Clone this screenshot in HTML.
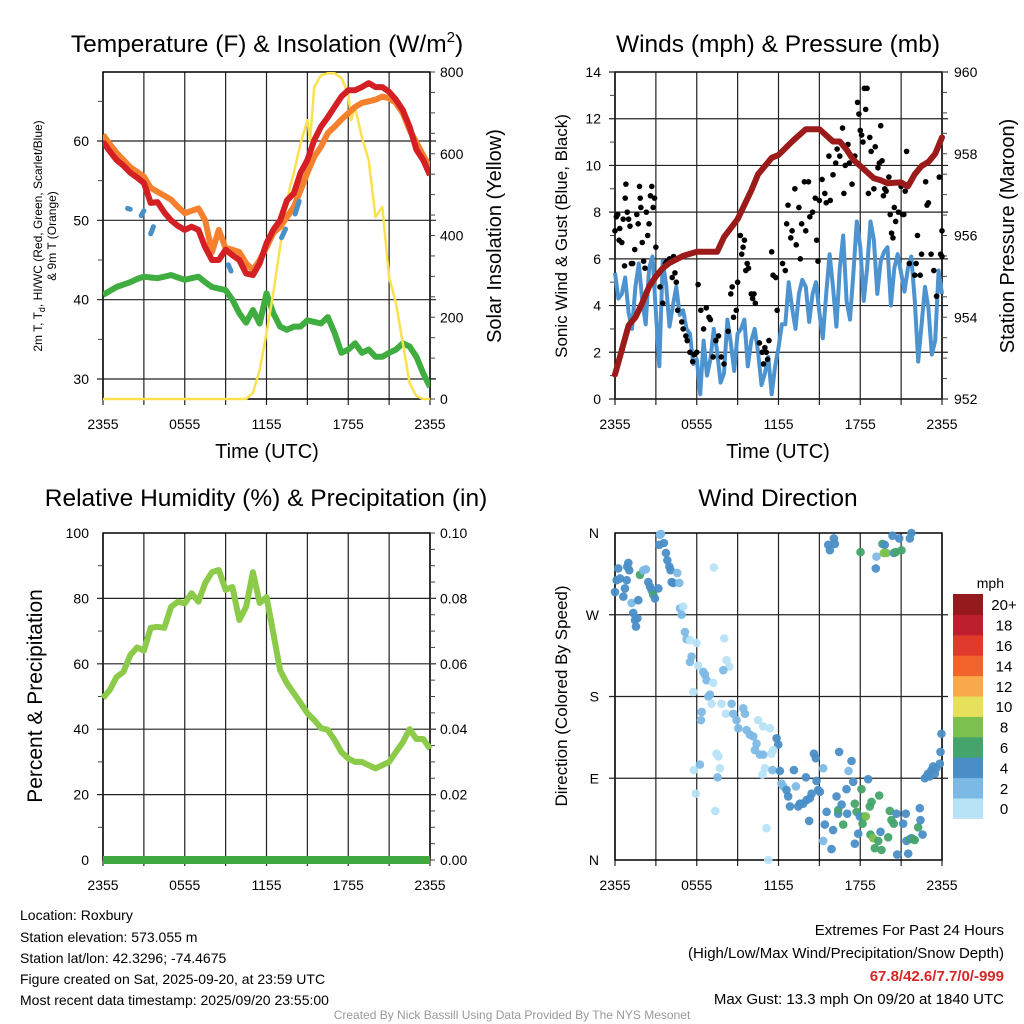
<!DOCTYPE html>
<html><head><meta charset="utf-8"><style>
html,body{margin:0;padding:0;background:#fff;}
svg{display:block;font-family:"Liberation Sans",Arial,sans-serif;}
</style></head><body>
<svg id="chart" width="1024" height="1024" viewBox="0 0 1024 1024" xmlns="http://www.w3.org/2000/svg">
<rect x="0" y="0" width="1024" height="1024" fill="#fff"/>
<g id="layer"></g>
<text x="267" y="52" font-size="24.5" text-anchor="middle">Temperature (F) &amp; Insolation (W/m<tspan font-size="15" dy="-10">2</tspan><tspan dy="10">)</tspan></text>
<text x="778" y="52" font-size="24.5" text-anchor="middle">Winds (mph) &amp; Pressure (mb)</text>
<text x="266" y="506" font-size="24.5" text-anchor="middle">Relative Humidity (%) &amp; Precipitation (in)</text>
<text x="778" y="506" font-size="24.5" text-anchor="middle">Wind Direction</text>
<text x="267" y="458" font-size="20" text-anchor="middle">Time (UTC)</text>
<text x="778" y="458" font-size="20" text-anchor="middle">Time (UTC)</text>
<text transform="translate(42,236) rotate(-90)" font-size="12" text-anchor="middle">2m T, T<tspan font-size="9" dy="3">d</tspan><tspan dy="-3">, HI/WC (Red, Green, Scarlet/Blue)</tspan></text>
<text transform="translate(56,236) rotate(-90)" font-size="12" text-anchor="middle">&amp; 9m T (Orange)</text>
<text transform="translate(501,236) rotate(-90)" font-size="20" text-anchor="middle">Solar Insolation (Yellow)</text>
<text transform="translate(567,236) rotate(-90)" font-size="17" text-anchor="middle">Sonic Wind &amp; Gust (Blue, Black)</text>
<text transform="translate(1014,236) rotate(-90)" font-size="20" text-anchor="middle">Station Pressure (Maroon)</text>
<text transform="translate(42,696) rotate(-90)" font-size="21" text-anchor="middle">Percent &amp; Precipitation</text>
<text transform="translate(567,696) rotate(-90)" font-size="17" text-anchor="middle">Direction (Colored By Speed)</text>
<text x="1004" y="588" font-size="14" text-anchor="end">mph</text>
<g font-size="14">
<text x="20" y="920">Location: Roxbury</text>
<text x="20" y="942">Station elevation: 573.055 m</text>
<text x="20" y="963">Station lat/lon: 42.3296; -74.4675</text>
<text x="20" y="984">Figure created on Sat, 2025-09-20, at 23:59 UTC</text>
<text x="20" y="1005">Most recent data timestamp: 2025/09/20 23:55:00</text>
</g>
<g font-size="15" text-anchor="end">
<text x="1004" y="935">Extremes For Past 24 Hours</text>
<text x="1004" y="958">(High/Low/Max Wind/Precipitation/Snow Depth)</text>
<text x="1004" y="981" fill="#d62728" font-weight="bold">67.8/42.6/7.7/0/-999</text>
<text x="1004" y="1004">Max Gust: 13.3 mph On 09/20 at 1840 UTC</text>
</g>
<text x="512" y="1019" font-size="12" fill="#999" text-anchor="middle">Created By Nick Bassill Using Data Provided By The NYS Mesonet</text>
</svg>
<script>
const hours30 = [0,0.5,1,1.5,2,2.5,3,3.5,4,4.5,5,5.5,6,6.5,7,7.5,8,8.5,9,9.5,10,10.5,11,11.5,12,12.5,13,13.5,14,14.5,15,15.5,16,16.5,17,17.5,18,18.5,19,19.5,20,20.5,21,21.5,22,22.5,23,23.5,24];
const timeTickLabels = ["2355","0555","1155","1755","2355"];
const tempTicks = [30,40,50,60];
const solarTicks = [0,200,400,600,800];
const tempRed = [59.9,58.7,57.6,56.9,56,55.4,54.7,52.2,52.3,51,50,49.3,48.8,49.2,48.8,46.6,45,45,46.3,45.6,45,43.3,43.1,44.6,47.1,48.8,50,52.5,53.4,56,57.6,60.1,61.8,63,64.3,65.6,66.4,66.4,66.8,67.3,66.8,66.8,66.2,65.2,63.9,61.8,58.9,57.6,55.7];
const temp9m = [60.8,59.6,58.5,57.6,56.7,56.1,55.5,54.1,53.6,53.1,52.6,51.7,50.9,51.2,51.5,50,46,48.8,46.5,46.3,46,44.6,43.7,45,46.6,48.4,49.2,50.4,51.7,53.8,56,58,59.3,61,61.8,62.7,63.5,64.3,64.8,65,65.2,65.6,65.4,64.8,63.5,61.4,59.8,58.2,56.7];
const dewpoint = [40.6,41.1,41.6,41.9,42.2,42.6,42.9,42.8,42.7,42.9,43.1,42.8,42.5,42.7,42.9,42.2,41.6,41.4,41.2,40,38.3,37.1,38.7,37,40.8,38.3,36.6,36.2,36.6,36.6,37.4,37.2,37,37.8,35.8,33.3,33.7,34.5,33.3,33.7,32.8,32.8,33.3,33.7,34.5,34.1,32.8,30.7,29];
const windChillHours = [1.8,2.0,2.8,3.0,3.5,3.7,9.2,9.4,13.1,13.4,14.1,14.4];
const windChillVals = [51.5,51.4,50.6,51.2,48.3,49.2,44.4,43.6,47.8,48.9,50.8,52.4];
const solarHours = [0,10.5,11,11.5,12,12.5,13,13.5,14,14.5,15,15.2,15.5,16,16.5,17,17.5,18,18.2,18.5,19,19.5,20,20.5,21,21.5,22,22.5,23,23.5,24];
const solarVals = [0,0,15,71,161,259,372,487,553,626,682,633,763,792,797,797,785,748,682,714,640,584,445,470,298,235,137,39,7,0,0];
const windTicks = [0,2,4,6,8,10,12,14];
const pressTicks = [952,954,956,958,960];
const windSpeed = [5.4,4.3,4.5,5.2,3.7,3.0,4.8,5.8,4.2,3.2,5.6,6.1,3.7,1.4,5.9,4.9,3.1,4.0,4.8,3.6,3.8,3.0,2.8,1.5,1.7,0.2,2.5,1.0,1.7,3.0,2.0,0.7,1.1,3.4,2.4,1.2,2.8,3.0,3.4,1.4,2.5,3.0,2.0,0.6,1.1,1.8,0.2,1.4,2.2,3.2,3.2,5.0,3.9,3.0,4.5,5.1,4.8,3.3,4.5,5.0,3.7,2.6,4.5,6.2,4.8,3.1,5.6,7.0,4.2,3.4,5.4,7.6,6.5,4.2,5.6,7.6,6.8,4.5,5.9,6.3,6.5,4.0,5.6,6.2,5.4,4.6,5.6,6.1,4.2,1.6,3.2,4.8,3.9,1.9,2.5,5.5,4.5];
const windHours = windSpeed.map((v, i) => i * 0.25);
const pressHours = [0,0.5,1,1.5,2,2.5,3,3.5,4,5,6,7,7.5,8,9,10,10.5,11,11.5,12,13,14,14.5,15,16,16.5,17,17.5,18,19,19.5,20,21,21.5,22,22.5,23,23.5,24];
const pressVals = [952.6,953.2,953.8,954.0,954.35,954.75,955.0,955.2,955.33,955.5,955.6,955.6,955.6,955.96,956.4,957.1,957.5,957.7,957.9,957.97,958.3,958.6,958.6,958.6,958.3,958.3,958.1,957.85,957.7,957.4,957.35,957.28,957.3,957.2,957.5,957.7,957.8,958.0,958.4];
const gustHours = [0,0.1,0.2,0.3,0.35,0.5,0.6,0.7,0.75,0.8,0.9,1.0,1.1,1.2,1.3,1.45,1.6,1.7,1.8,1.85,1.9,2.0,2.1,2.2,2.3,2.4,2.5,2.6,2.7,2.8,2.9,3.0,3.3,3.5,3.7,3.8,4.0,4.2,4.3,4.4,4.5,4.6,4.9,5.0,5.2,5.3,5.5,5.7,5.8,6.0,6.1,6.3,6.5,6.7,6.9,7.0,7.2,7.4,7.6,7.8,8.0,8.3,8.5,8.6,8.7,8.9,9.0,9.2,9.3,9.4,9.5,9.6,9.7,9.8,10.0,10.1,10.2,10.3,10.6,10.8,10.9,11.0,11.1,11.2,11.3,11.5,11.6,11.8,11.9,12.3,12.5,12.6,12.7,12.9,13.0,13.2,13.3,13.5,13.6,13.7,13.9,14.0,14.2,14.3,14.5,14.7,14.8,14.9,15.0,15.2,15.4,15.5,15.7,15.8,16.0,16.2,16.3,16.5,16.7,16.8,16.9,17.1,17.2,17.4,17.6,17.8,17.9,18.0,18.1,18.2,18.3,18.5,18.4,18.6,18.7,18.8,19.0,19.1,19.3,19.4,19.5,19.6,19.7,19.8,19.9,20.1,20.2,20.3,20.4,20.5,20.6,20.8,21.0,21.1,21.2,21.3,21.4,21.6,21.8,22.0,22.1,22.2,22.4,22.5,22.8,22.9,23.0,23.2,23.4,23.6,23.8,23.9,24,24];
const gustVals = [7.2,7.8,7.9,6.8,7.3,6.7,7.7,5.7,8.6,9.2,8.0,7.7,7.4,5.8,5.8,6.4,7.9,7.5,9.1,8.6,8.2,6.7,5.9,5.6,8.0,7.0,7.5,8.7,9.1,8.2,8.6,6.5,4.8,4.1,5.8,5.9,6.0,5.2,6.1,5.4,5.0,3.8,3.3,3.0,2.7,2.5,2.0,1.6,1.9,2.0,4.9,3.8,3.0,3.9,3.5,3.4,1.8,2.5,2.7,1.8,1.5,2.9,4.5,4.8,3.5,3.8,5.0,7.0,6.2,6.5,6.8,5.5,5.8,5.6,4.5,4.3,4.5,4.1,2.4,2.0,1.5,2.2,2.0,1.7,2.5,6.3,5.3,5.2,3.8,5.8,5.5,7.5,8.3,6.9,7.2,9.0,6.6,8.2,6.0,7.5,9.3,7.2,9.3,7.8,8.0,8.6,6.8,5.9,8.5,9.4,8.8,8.4,10.4,8.5,9.6,10.1,10.7,10.4,11.6,8.8,10.0,10.9,10.1,9.2,10.4,12.7,12.2,11.5,11.3,11.0,13.3,13.3,12.4,8.8,11.2,10.6,9.0,10.8,9.9,10.1,11.7,10.2,8.7,9.0,8.9,9.5,7.9,7.1,6.9,8.2,7.6,8.0,9.1,7.9,7.9,8.9,10.6,5.8,9.4,5.3,5.8,7.0,5.3,6.2,9.3,8.3,8.4,6.2,5.5,4.4,9.5,6.2,7.2,6.1];
const rhTicks = [0,20,40,60,80,100];
const precipTicks = ["0.00","0.02","0.04","0.06","0.08","0.10"];
const relHumidity = [49.5,52,56,57.5,62.7,65,64,71,71.3,71,77.4,79,78.5,81.6,79,84.7,88,88.7,82.6,83.5,73.4,77.4,88,78.6,80.4,69.4,58,54,51,48,44.9,42.8,40.3,39.8,36.7,33,31,30,30,29,28,29,30,33,36,40,37,37,34];
const precipHours = [0,24];
const precipVals = [0,0];
const dirTicks = ["N","E","S","W","N"];
const dirHours = [0,0.12,0.24,0.37,0.61,0.73,0.86,0.9,1.05,0.98,1.22,1.34,1.47,1.54,1.64,1.71,1.83,2.08,2.27,2.44,2.57,2.69,2.81,2.93,3.18,3.3,3.37,3.25,3.59,3.74,3.84,3.99,4.08,4.16,4.28,4.57,4.72,4.77,4.89,5.01,5.13,5.26,5.5,5.62,5.5,5.99,6.11,6.48,6.6,6.72,6.85,6.97,7.21,7.26,8.02,8.19,8.39,7.95,5.75,6.36,6.31,7.09,7.82,8.14,8.56,8.68,8.92,9.05,9.41,9.54,9.66,9.9,10.15,10.39,10.27,10.64,10.88,10.51,10.88,11.37,11.86,11.98,11.49,11.61,7.46,7.58,7.7,7.53,6.23,5.79,5.94,7.36,11.12,11.25,11.0,10.83,11.56,12.1,12.22,12.35,12.59,12.71,12.84,13.13,13.28,13.45,13.57,13.81,14.06,14.3,14.01,14.43,14.79,14.91,15.04,14.25,14.6,14.74,15.28,15.53,15.4,15.28,15.89,16.01,16.26,16.38,16.45,16.38,16.63,16.75,16.99,17.04,17.14,17.36,17.48,17.6,17.73,17.85,17.97,17.6,18.09,18.17,18.29,18.41,18.58,18.7,18.83,18.75,18.95,19.07,19.32,19.39,19.49,19.56,20.05,20.17,20.29,20.46,20.66,20.71,21.15,21.34,21.39,21.52,21.64,21.76,21.88,22.0,22.25,22.37,22.42,22.57,22.74,22.86,22.98,23.1,23.23,23.35,23.47,23.59,23.84,23.89,23.96,15.65,15.77,16.14,16.06,18.02,19.14,19.19,19.63,19.73,19.8,19.93,20.37,20.46,20.61,20.86,21.03,21.64,21.76];
const dirDegrees = [295,308,321,310,290,299,308,323,319,327,283,272,264,257,266,286,314,319,320,306,301,297,292,288,299,358,359,347,349,338,330,323,319,306,305,316,305,277,270,279,251,243,242,224,218,239,214,207,204,198,180,182,195,322,244,220,213,209,185,163,154,172,172,161,172,161,154,145,167,161,143,138,136,128,121,116,116,154,147,145,134,127,117,121,117,114,101,91,105,99,73,54,35,0,101,94,99,98,84,81,77,70,59,99,81,59,62,62,66,68,91,73,87,77,75,43,117,112,101,53,39,21,12,33,70,51,119,55,61,39,78,51,98,109,86,62,53,29,48,18,78,40,48,48,89,59,64,28,24,13,21,71,31,11,25,54,44,40,51,6,40,51,21,7,23,24,23,22,36,57,44,28,90,92,95,92,99,103,95,101,106,119,139,347,341,348,354,339,321,334,348,338,347,338,357,338,339,354,341,354,360];
const dirSpeeds = [5,5,5,5,5,5,5,5,5,5,3,5,5,5,5,5,7,3,3,5,5,5,7,5,5,3,3,5,5,5,5,5,5,5,5,3,3,3,3,1,3,3,1,3,3,1,1,3,3,3,3,3,1,1,1,1,1,3,1,3,3,1,1,1,3,3,3,3,3,3,3,3,3,3,3,3,3,1,1,1,5,5,1,1,1,1,1,3,3,1,1,1,1,1,1,1,3,5,3,3,5,5,5,5,3,5,5,5,5,5,5,5,5,5,5,5,5,5,3,5,5,3,5,5,5,5,5,7,5,7,5,5,3,5,5,7,7,5,5,5,7,7,7,9,5,7,7,7,9,7,7,7,5,7,7,7,7,7,5,5,5,5,5,5,7,5,7,7,7,5,5,5,5,5,5,5,5,5,5,5,5,5,5,5,5,5,5,7,5,3,7,9,5,9,5,5,7,5,7,5,5,7];
const speedBinLabels = ["0","2","4","6","8","10","12","14","16","18","20+"];
const speedBinColors = ["#b8e3f7","#7db9e5","#4a8ec7","#45a46c","#7cc14d","#e6e05a","#f9a94a","#f1652c","#e03a2c","#be1e2d","#951a1d"];

const NS = "http://www.w3.org/2000/svg";
const layer = document.getElementById("layer");
function mk(tag, attrs, parent) {
  const el = document.createElementNS(NS, tag);
  for (const k in attrs) el.setAttribute(k, attrs[k]);
  (parent || layer).appendChild(el);
  return el;
}
function linScale(d0, d1, r0, r1) { return v => r0 + (v - d0) / (d1 - d0) * (r1 - r0); }
const P1 = {x0:103, x1:430, y0:72, y1:399};
const P2 = {x0:615, x1:942, y0:72, y1:399};
const P3 = {x0:103, x1:430, y0:533, y1:860};
const P4 = {x0:615, x1:942, y0:533, y1:860};
const x1s = linScale(0, 24, P1.x0, P1.x1);
const x2s = linScale(0, 24, P2.x0, P2.x1);
const tempY = linScale(30, 60, 379, 141);
const solarY = linScale(0, 800, P1.y1, P1.y0);
const windY = linScale(0, 14, P2.y1, P2.y0);
const pressY = linScale(952, 960, P2.y1, P2.y0);
const rhY = linScale(0, 100, P3.y1, P3.y0);
const precipY = linScale(0, 0.1, P3.y1, P3.y0);
const dirY = linScale(0, 360, P4.y1, P4.y0);

function frame(P, xs, name) {
  const g = mk("g", {});
  
  
  for (let h = 0; h <= 24; h += 3) {
    const gl = mk("line", {x1:xs(h), x2:xs(h), y1:P.y0, y2:P.y1+6, stroke:"#222", "stroke-width":1.2}, g);
    
    
  }
  timeTickLabels.forEach((lab, i) => {
    const t = mk("text", {x:xs(i*6), y:P.y1+30, "font-size":14, "text-anchor":"middle"}, g);
    t.textContent = lab;
    
    
  });
  const box = mk("rect", {x:P.x0, y:P.y0, width:P.x1-P.x0, height:P.y1-P.y0, fill:"none", stroke:"#000", "stroke-width":1.5}, g);
  
  
  return g;
}
function hgrid(P, y, g, name) {
  const l = mk("line", {x1:P.x0-6, x2:P.x1+6, y1:y, y2:y, stroke:"#222", "stroke-width":1.2}, g);
  
  
}
function minorTick(x, y, dir, g) {
  const l = mk("line", {x1:x, x2:x+dir*5, y1:y, y2:y, stroke:"#444", "stroke-width":1}, g);
  
  
}
function label(x, y, txt, anchor, g, name, size) {
  const t = mk("text", {x:x, y:y+5, "font-size":size||14, "text-anchor":anchor}, g);
  t.textContent = txt;
  
  
}
function pathFrom(xsArr, ysArr, xs, ys) {
  return xsArr.map((h, i) => (i ? "L" : "M") + xs(h).toFixed(1) + "," + ys(ysArr[i]).toFixed(1)).join("");
}

// Panel 1
const g1 = frame(P1, x1s, "temperature");
tempTicks.forEach(v => { hgrid(P1, tempY(v), g1, "temperature-y-gridline"); label(P1.x0-14, tempY(v), String(v), "end", g1, "temperature-y-tick-label"); });
for (let v = 30; v <= 65; v += 5) if (v % 10) minorTick(P1.x0, tempY(v), -1, g1);
for (let v = 0; v <= 800; v += 50) minorTick(P1.x1, solarY(v), 1, g1);
solarTicks.forEach(v => label(P1.x1+10, solarY(v), String(v), "start", g1, "solar-y-tick-label"));
const cp1 = mk("clipPath", {id:"clip1"});
mk("rect", {x:P1.x0, y:P1.y0-3, width:P1.x1-P1.x0, height:P1.y1-P1.y0+3}, cp1);
const dew = mk("path", {d:pathFrom(hours30, dewpoint, x1s, tempY), fill:"none", stroke:"#3fad3f", "stroke-width":6, "stroke-linejoin":"round", "clip-path":"url(#clip1)"});


const sol = mk("path", {d:pathFrom(solarHours, solarVals, x1s, solarY), fill:"none", stroke:"#fbe14f", "stroke-width":2.5, "stroke-linejoin":"round"});


const t9 = mk("path", {d:pathFrom(hours30, temp9m, x1s, tempY), fill:"none", stroke:"#f5802d", "stroke-width":6, "stroke-linejoin":"round", "clip-path":"url(#clip1)"});


const t2 = mk("path", {d:pathFrom(hours30, tempRed, x1s, tempY), fill:"none", stroke:"#d42025", "stroke-width":6, "stroke-linejoin":"round", "clip-path":"url(#clip1)"});


for (let i = 0; i < windChillHours.length; i += 2) {
  const wc = mk("line", {x1:x1s(windChillHours[i]), y1:tempY(windChillVals[i]), x2:x1s(windChillHours[i+1]), y2:tempY(windChillVals[i+1]), stroke:"#4a90c8", "stroke-width":5, "stroke-linecap":"round"});
  
  
}

// Panel 2
const g2 = frame(P2, x2s, "winds");
windTicks.forEach(v => { hgrid(P2, windY(v), g2, "wind-y-gridline"); label(P2.x0-14, windY(v), String(v), "end", g2, "wind-y-tick-label"); });
for (let v = 1; v < 14; v += 2) minorTick(P2.x0, windY(v), -1, g2);
for (let v = 952; v <= 960; v += 0.5) minorTick(P2.x1, pressY(v), 1, g2);
pressTicks.forEach(v => label(P2.x1+12, pressY(v), String(v), "start", g2, "pressure-y-tick-label"));
const ws = mk("path", {d:pathFrom(windHours, windSpeed, x2s, windY), fill:"none", stroke:"#4d93cf", "stroke-width":4, "stroke-linejoin":"round"});


gustHours.forEach((h, i) => {
  const c = mk("circle", {cx:x2s(h), cy:windY(gustVals[i]), r:2.8, fill:"#000"});
  
  
});
const pr = mk("path", {d:pathFrom(pressHours, pressVals, x2s, pressY), fill:"none", stroke:"#9b1b1b", "stroke-width":6, "stroke-linejoin":"round", "stroke-linecap":"round"});



// Panel 3
const g3 = frame(P3, x1s, "humidity");
rhTicks.forEach(v => { if (v > 0 && v < 100) hgrid(P3, rhY(v), g3, "humidity-y-gridline"); label(P3.x0-14, rhY(v), String(v), "end", g3, "humidity-y-tick-label"); });
for (let v = 10; v < 100; v += 20) minorTick(P3.x0, rhY(v), -1, g3);
for (let v = 0; v <= 0.1001; v += 0.005) minorTick(P3.x1, precipY(v), 1, g3);
precipTicks.forEach(v => label(P3.x1+10, precipY(parseFloat(v)), v, "start", g3, "precip-y-tick-label"));
const rh = mk("path", {d:pathFrom(hours30, relHumidity, x1s, rhY), fill:"none", stroke:"#8ccb4a", "stroke-width":6, "stroke-linejoin":"round"});


const pc = mk("path", {d:pathFrom(precipHours, precipVals, x1s, precipY), fill:"none", stroke:"#3fa83f", "stroke-width":8});



// Panel 4
const g4 = frame(P4, x2s, "direction");
dirTicks.forEach((lab, i) => { if (i > 0 && i < 4) hgrid(P4, dirY(i*90), g4, "direction-y-gridline"); label(P4.x0-16, dirY(i*90), lab, "end", g4, "direction-y-tick-label"); });
dirHours.forEach((h, i) => {
  const bin = Math.min(10, Math.floor(dirSpeeds[i] / 2));
  const c = mk("circle", {cx:x2s(h), cy:dirY(dirDegrees[i]), r:4.3, fill:speedBinColors[bin], "fill-opacity":0.95});
  
  
});
// Colorbar
const cbTop = 594, cbH = 20.4;
speedBinLabels.forEach((lab, i) => {
  const k = speedBinLabels.length - 1 - i;
  const r = mk("rect", {x:953, y:cbTop + k*cbH, width:30, height:cbH+0.5, fill:speedBinColors[i]});
  
  
  const t = mk("text", {x:1004, y:cbTop + k*cbH + cbH/2 + 6, "font-size":15, "text-anchor":"middle"});
  t.textContent = lab;
  
  
});
</script>
</body></html>
